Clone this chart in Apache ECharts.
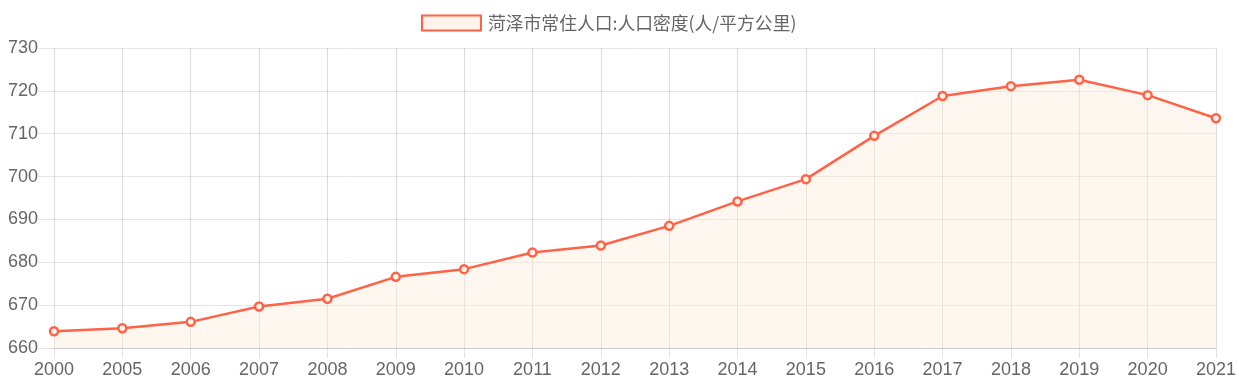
<!DOCTYPE html>
<html><head><meta charset="utf-8">
<script src="https://cdn.jsdelivr.net/npm/echarts@6/dist/echarts.min.js"></script>
<style>html,body{margin:0;padding:0;background:#fff}#c{width:1239px;height:390px}</style>
</head><body><div id="c"></div>
<script>
const seriesName = '菏泽市常住人口:人口密度(人/平方公里)';
const years = ['2000','2005','2006','2007','2008','2009','2010','2011','2012','2013','2014','2015','2016','2017','2018','2019','2020','2021'];
const density = [663.9, 664.6, 666.1, 669.7, 671.5, 676.6, 678.4, 682.3, 683.9, 688.5, 694.2, 699.4, 709.5, 718.8, 721.1, 722.6, 719.0, 713.6];
const yTicks = {min: 660, max: 730, interval: 10};

const chart = echarts.init(document.getElementById('c'));
const gridColor = 'rgba(0,0,0,0.1)';
chart.setOption({
  animation: false,
  textStyle: {fontFamily: '"Liberation Sans", Arial, sans-serif'},
  legend: {
    top: 9, left: 416,
    itemWidth: 59, itemHeight: 15, itemGap: 10,
    textStyle: {fontSize: 17.8, color: '#666', fontFamily: '"Noto Sans CJK SC", sans-serif', padding: [0,0,0,2]},
    data: [{name: seriesName, icon: 'rect'}]
  },
  grid: {left: 54, right: 23, top: 48, bottom: 42, containLabel: false},
  xAxis: {
    type: 'category', data: years, boundaryGap: false,
    axisLine: {show: true, lineStyle: {color: '#ccc'}},
    axisTick: {show: true, length: 10, alignWithLabel: true, lineStyle: {color: gridColor}},
    axisLabel: {color: '#666', fontSize: 18, margin: 13, fontFamily: '"Liberation Sans", Arial, sans-serif', interval: 0},
    splitLine: {show: true, lineStyle: {color: 'rgba(0,0,0,0.13)', width: 1}}
  },
  yAxis: {
    type: 'value', min: yTicks.min, max: yTicks.max, interval: yTicks.interval,
    axisLine: {show: false},
    axisTick: {show: true, length: 16, lineStyle: {color: gridColor}},
    axisLabel: {color: '#666', fontSize: 18, margin: 16, fontFamily: '"Liberation Sans", Arial, sans-serif'},
    splitLine: {show: true, lineStyle: {color: gridColor, width: 1}}
  },
  series: [{
    name: seriesName, type: 'line', data: density,
    symbol: 'circle', symbolSize: 8, showSymbol: true,
    lineStyle: {color: '#ff6347', width: 2.5},
    itemStyle: {color: '#fff3ea', borderColor: '#ff6347', borderWidth: 2.5},
    areaStyle: {color: 'rgba(253,235,220,0.6)'}
  }]
});
</script></body></html>
